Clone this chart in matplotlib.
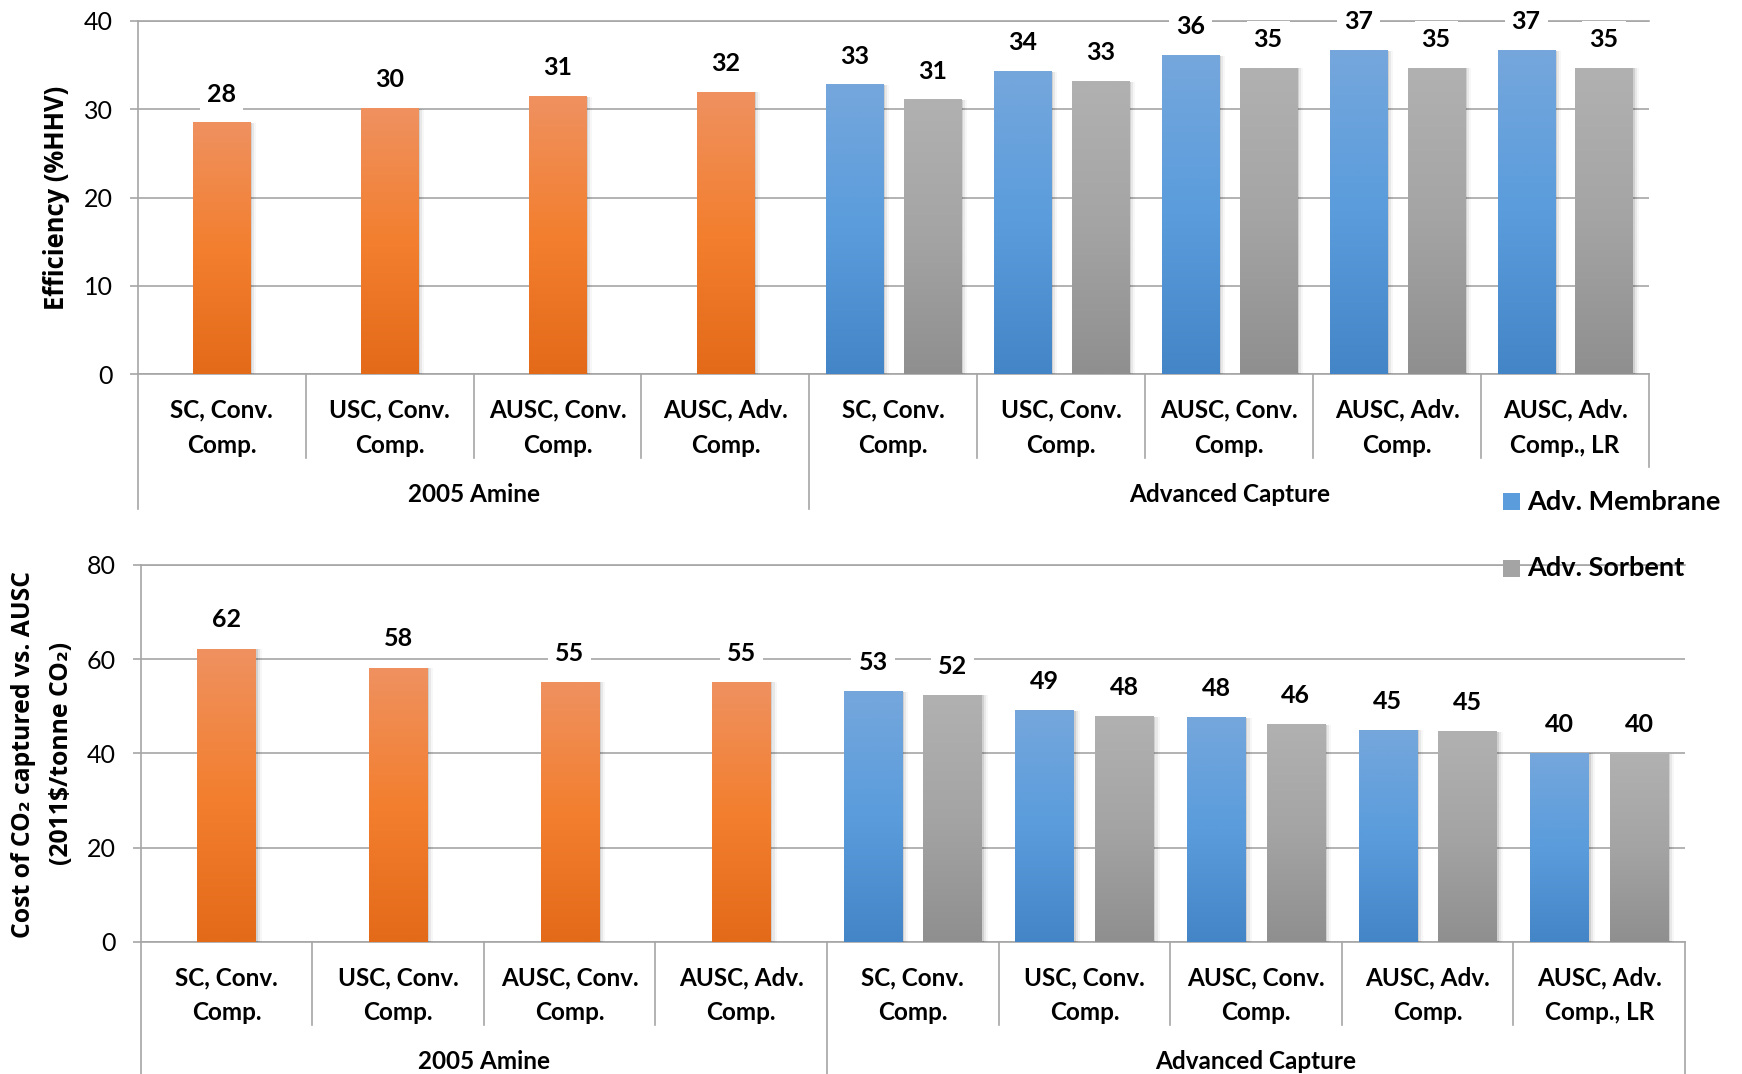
import numpy as np
import matplotlib
matplotlib.use("Agg")
import matplotlib.pyplot as plt
from matplotlib.colors import LinearSegmentedColormap
from matplotlib.patches import Rectangle

plt.rcParams['font.family'] = ['Lato', 'DejaVu Sans']

# category labels (two levels)
categories = ["SC, Conv.\nComp.", "USC, Conv.\nComp.", "AUSC, Conv.\nComp.", "AUSC, Adv.\nComp.",
              "SC, Conv.\nComp.", "USC, Conv.\nComp.", "AUSC, Conv.\nComp.", "AUSC, Adv.\nComp.",
              "AUSC, Adv.\nComp., LR"]
groups = ["2005 Amine", "Advanced Capture"]
group_sizes = [4, 5]
series_names = ["Adv. Membrane", "Adv. Sorbent"]

# efficiency, %HHV
eff_amine = [28.4, 30.0, 31.4, 31.9]
eff_membrane = [32.7, 34.2, 36.0, 36.6, 36.6]
eff_sorbent = [31.0, 33.1, 34.6, 34.6, 34.6]

# cost of CO2 captured vs AUSC, 2011$/tonne
cost_amine = [62.2, 58.1, 55.1, 55.1]
cost_membrane = [53.1, 49.1, 47.6, 44.9, 40.0]
cost_sorbent = [52.3, 47.8, 46.1, 44.6, 39.9]

orange = LinearSegmentedColormap.from_list("o", ["#E36A19", "#F37F2F", "#EF9160"])
blue = LinearSegmentedColormap.from_list("b", ["#4385C6", "#5A9CDC", "#75A7DC"])
gray = LinearSegmentedColormap.from_list("g", ["#8F8F8F", "#A4A4A4", "#B1B1B1"])
GRID = "#A6A6A6"
LBL = 17.5

W, H = 1742, 1074
fig = plt.figure(figsize=(W / 100, H / 100), dpi=100)


def grad_bars(ax, x, heights, width, cmap):
    grad = np.linspace(0, 1, 256).reshape(-1, 1)
    for xi, h in zip(x, heights):
        ax.imshow(grad, cmap=cmap, extent=[xi - width / 2, xi + width / 2, 0, h],
                  origin='lower', aspect='auto', zorder=3, interpolation='bilinear')
        for k, a in enumerate([0.10, 0.06, 0.03]):
            ax.add_patch(Rectangle((xi - width / 2, 0), width + 0.012 * (k + 1), h,
                                   fc='black', ec='none', alpha=a, zorder=2.8))
    for xi, h in zip(x, heights):
        ax.annotate(f"{h:.0f}", (xi, h), xytext=(0, 21), textcoords='offset points',
                    ha='center', va='center', fontsize=18, fontweight='bold', zorder=5,
                    bbox=dict(fc='white', ec='none', pad=5))


def make_panel(rect, ymax, step, amine, memb, sorb, sep_inner, sep_group, sep_right,
               lab_y, grp_y):
    ax = fig.add_axes(rect)
    n = len(categories)
    xa = np.arange(group_sizes[0])
    xc = np.arange(group_sizes[0], n)
    bw = 0.34
    off = 0.232
    grad_bars(ax, xa, amine, bw, orange)
    grad_bars(ax, xc - off, memb, bw, blue)
    grad_bars(ax, xc + off, sorb, bw, gray)

    ax.set_xlim(-0.5, n - 0.5)
    ax.set_ylim(0, ymax)
    ax.set_yticks(np.arange(0, ymax + 1, step))
    ax.yaxis.grid(True, color=GRID, lw=1.2)
    ax.set_axisbelow(True)
    ax.spines['right'].set_visible(False)
    for s in ['left', 'top', 'bottom']:
        ax.spines[s].set_color(GRID)
        ax.spines[s].set_linewidth(1.2)
    ax.tick_params(axis='y', length=6, color=GRID, width=1.2, pad=12, labelsize=18)
    ax.tick_params(axis='x', bottom=False, labelbottom=False)

    tr = ax.get_xaxis_transform()
    bounds = np.arange(n + 1) - 0.5
    gb = np.concatenate([[0], np.cumsum(group_sizes)]) - 0.5
    for b in bounds:
        if b == bounds[-1]:
            y0 = sep_right
        elif b in gb:
            y0 = sep_group
        else:
            y0 = sep_inner
        ax.plot([b, b], [0, y0], transform=tr, color=GRID, lw=1.2, clip_on=False)
    for i, c in enumerate(categories):
        ax.text(i, lab_y, c, transform=tr, ha='center', va='center', fontsize=LBL,
                fontweight='bold', linespacing=1.62)
    for g, a, b in zip(groups, gb[:-1], gb[1:]):
        ax.text((a + b) / 2, grp_y, g, transform=tr, ha='center', va='center',
                fontsize=LBL, fontweight='bold')
    return ax


def px(x0, y0, x1, y1):
    return [x0 / W, 1 - y1 / H, (x1 - x0) / W, (y1 - y0) / H]


ylab = dict(rotation=90, ha='center', va='center', fontweight='bold',
            family=['Open Sans', 'DejaVu Sans'])

# efficiency panel
make_panel(px(137.7, 20.7, 1649, 374.3), 40, 10, eff_amine, eff_membrane, eff_sorbent,
           -0.237, -0.381, -0.262, -0.151, -0.340)
fig.text(57 / W, 1 - 197.5 / H, "Efficiency (%HHV)", fontsize=18.4, **ylab)

# cost panel
make_panel(px(140.7, 565, 1685, 941.7), 80, 20, cost_amine, cost_membrane, cost_sorbent,
           -0.221, -0.351, -0.351, -0.143, -0.319)
fig.text(24 / W, 1 - 755 / H, "Cost of CO₂ captured vs. AUSC", fontsize=17.8, **ylab)
fig.text(62 / W, 1 - 753 / H, "(2011$/tonne CO₂)", fontsize=17.8, **ylab)

# legend
for name, col, yc in zip(series_names, ["#5A9CDC", "#A4A4A4"], [501.5, 568.5]):
    fig.patches.append(Rectangle((1503 / W, 1 - (yc + 8.5) / H), 17 / W, 17 / H,
                                 fc=col, ec='none', transform=fig.transFigure, figure=fig))
    fig.text(1527 / W, 1 - yc / H, name, ha='left', va='center', fontsize=19.5,
             fontweight='bold')

fig.savefig("out.png", dpi=100)
